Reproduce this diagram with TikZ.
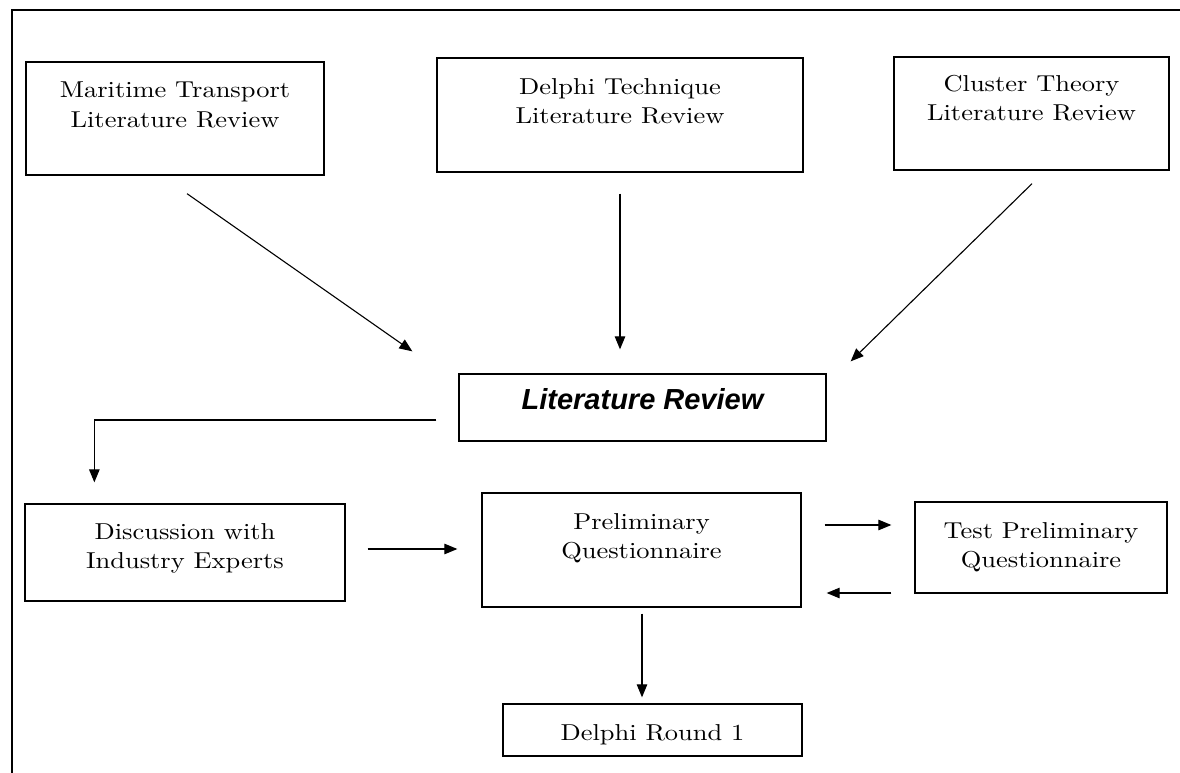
\documentclass[tikz,border=0pt]{standalone}
\usepackage{fontspec}
\usetikzlibrary{arrows.meta,calc}
% Box captions: a slightly widened Latin Modern Roman
\newfontfamily\boxfont{lmroman10-regular.otf}[FakeStretch=1.15]
\newfontfamily\headfont{Liberation Sans}

\tikzset{
  frameline/.style={line width=1.2pt},
  box/.style={draw, rectangle, line width=1.3pt, inner sep=0pt},
  caption/.style={font=\boxfont\fontsize{23}{29.5}\selectfont, align=center, inner sep=0pt},
  head/.style={font=\headfont\bfseries\itshape\fontsize{29}{34}\selectfont},
  arr/.style={-{Triangle[length=13pt,width=10.5pt]}, line width=1.1pt},
}

\begin{document}
\begin{tikzpicture}[x=1pt, y=-1pt]
  \path[use as bounding box] (0,0) rectangle (1180,773);

  % open frame: top and left rules
  \draw[frameline] (12,773) -- (12,10) -- (1180,10);

  % three source reviews
  \node[box, minimum width=298pt, minimum height=113pt] (mt) at (175,118.5) {};
  \node[caption, anchor=north] (mt-t) at (175,82) {Maritime Transport\\Literature Review};

  \node[box, minimum width=366pt, minimum height=114pt] (dt) at (620,115) {};
  \node[caption, anchor=north] (dt-t) at (620,78) {Delphi Technique\\Literature Review};

  \node[box, minimum width=275pt, minimum height=113pt] (ct) at (1031.5,113.5) {};
  \node[caption, anchor=north] (ct-t) at (1031.5,75) {Cluster Theory\\Literature Review};

  % combined review
  \node[box, minimum width=367pt, minimum height=67pt] (lr) at (642.5,407.5) {};
  \node[head, anchor=base, inner sep=0pt] (lr-t) at (642.5,409) {Literature Review};

  % second row
  \node[box, minimum width=320pt, minimum height=97pt] (de) at (185,552.5) {};
  \node[caption, anchor=north] (de-t) at (185,523) {Discussion with\\Industry Experts};

  \node[box, minimum width=319pt, minimum height=114pt] (pq) at (641.5,550) {};
  \node[caption, anchor=north] (pq-t) at (641.5,513) {Preliminary\\Questionnaire};

  \node[box, minimum width=252pt, minimum height=91pt] (tq) at (1041,547.5) {};
  \node[caption, anchor=north] (tq-t) at (1041,522) {Test Preliminary\\Questionnaire};

  % first round
  \node[box, minimum width=299pt, minimum height=52pt] (dr) at (652.5,730) {};
  \node[caption, anchor=base] (dr-t) at (652.5,740) {Delphi Round 1};

  % connectors
  \draw[arr] ($(mt.south)+(12,18)$) -- ($(lr.north west)+(-46,-22)$);
  \draw[arr] ($(dt.south)+(0,21)$) -- ($(dt.south |- lr.north)+(0,-24)$);
  \draw[arr] ($(ct.south)+(0.5,13)$) -- ($(lr.north east)+(24,-12)$);
  \draw[arr] ($(lr.west)+(-22,12.5)$) -| ($(de.north west)+(70,-21)$);
  \draw[arr] ($(de.east)+(22,-3.5)$) -- ($(pq.west |- de.east)+(-24,-3.5)$);
  \draw[arr] ($(pq.east)+(23,-25)$) -- ($(tq.west)+(-23,-22.5)$);
  \draw[arr] ($(tq.west)+(-23,45.5)$) -- ($(pq.east)+(25,43)$);
  \draw[arr] ($(pq.south)+(0.5,6)$) -- ($(pq.south |- dr.north)+(0.5,-6)$);
\end{tikzpicture}
\end{document}
